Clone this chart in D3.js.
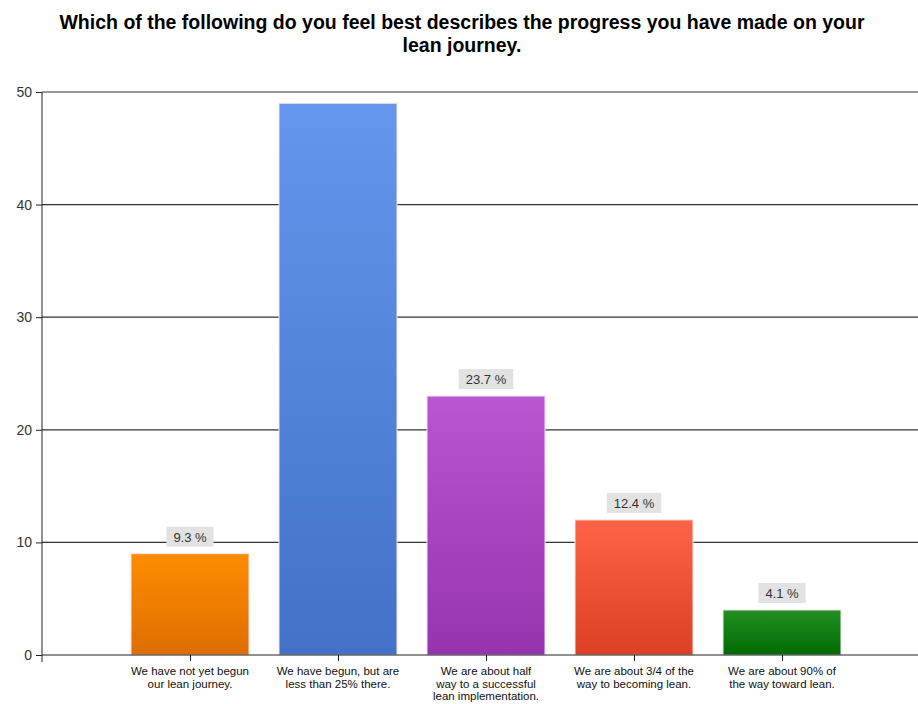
<!DOCTYPE html>
<meta charset="utf-8">
<head>
<style>
  body { margin: 0; background: #fff; }
  svg { display: block; font-family: "Liberation Sans", Arial, sans-serif; }
</style>
</head>
<body>
<svg width="918" height="704"></svg>

<script src="https://d3js.org/d3.v7.min.js"></script>
<script>
var categories = [
  ["We have not yet begun", "our lean journey."],
  ["We have begun, but are", "less than 25% there."],
  ["We are about half", "way to a successful", "lean implementation."],
  ["We are about 3/4 of the", "way to becoming lean."],
  ["We are about 90% of", "the way toward lean."]
];
var counts = [9, 49, 23, 12, 4];
var pctLabels = ["9.3 %", "", "23.7 %", "12.4 %", "4.1 %"];
var yTicks = [0, 10, 20, 30, 40, 50];
var title = ["Which of the following do you feel best describes the progress you have made on your",
             "lean journey."];

// top / bottom colours of each bar's gradient
var colors = [
  ["#ff8c00", "#dd6e00"],
  ["#6595ec", "#4371c8"],
  ["#ba55d3", "#9633b0"],
  ["#ff6347", "#dc4024"],
  ["#239023", "#006a00"]
];

var svg = d3.select("svg");

var x = d3.scaleLinear().domain([0, 6]).range([42, 930]),
    y = d3.scaleLinear().domain([0, 50]).range([655, 92]);
var barW = 118;

var defs = svg.append("defs");
colors.forEach(function(c, i) {
  var gr = defs.append("linearGradient").attr("id", "g" + i)
      .attr("x1", 0).attr("y1", 0).attr("x2", 0).attr("y2", 1);
  gr.append("stop").attr("offset", "0%").attr("stop-color", c[0]);
  gr.append("stop").attr("offset", "100%").attr("stop-color", c[1]);
});

// title
svg.append("g").selectAll("text")
    .data(title)
  .enter().append("text")
    .attr("x", 462)
    .attr("y", function(d, i) { return 29 + i * 23; })
    .attr("text-anchor", "middle")
    .attr("font-size", 19.5)
    .attr("font-weight", "bold")
    .attr("fill", "#000")
    .text(function(d) { return d; });

// gridlines
svg.append("g")
    .selectAll("line")
    .data(yTicks.slice(1))
  .enter().append("line")
    .attr("x1", 42).attr("x2", 918)
    .attr("y1", function(d) { return y(d); })
    .attr("y2", function(d) { return y(d); })
    .attr("stroke", "#333")
    .attr("stroke-width", 1.2);

// bars
svg.append("g").selectAll("rect")
    .data(counts)
  .enter().append("rect")
    .attr("x", function(d, i) { return x(i + 1) - barW / 2; })
    .attr("y", function(d) { return y(d); })
    .attr("width", barW)
    .attr("height", function(d) { return y(0) - y(d); })
    .attr("fill", function(d, i) { return "url(#g" + i + ")"; })
    .attr("stroke", "#f0e6f0")
    .attr("stroke-width", 1);

// value labels
var labs = svg.append("g").selectAll("g")
    .data(counts.map(function(d, i) { return {v: d, t: pctLabels[i], i: i}; })
      .filter(function(d) { return d.t; }))
  .enter().append("g")
    .attr("transform", function(d) { return "translate(" + x(d.i + 1) + "," + (y(d.v) - 7) + ")"; });
labs.each(function(d) {
  var g = d3.select(this);
  var t = g.append("text")
      .attr("text-anchor", "middle")
      .attr("y", -5)
      .attr("font-size", 13)
      .attr("fill", "#333")
      .text(d.t);
  var w = t.node().getComputedTextLength() + 14;
  g.insert("rect", "text")
      .attr("x", -w / 2).attr("y", -20)
      .attr("width", w).attr("height", 20)
      .attr("fill", "#e2e2e2");
});

// y axis
var yAxis = svg.append("g")
    .attr("transform", "translate(42,0)")
    .call(d3.axisLeft(y).tickValues(yTicks).tickSize(6).tickPadding(4));
yAxis.select(".domain").attr("stroke", "#222").attr("d", "M0,92V662");
yAxis.selectAll(".tick line").attr("stroke", "#222");
yAxis.selectAll(".tick text")
    .attr("font-size", 14)
    .attr("font-family", "Liberation Sans, Arial, sans-serif")
    .attr("fill", "#333");

// x axis
var xAxis = svg.append("g")
    .attr("transform", "translate(0,655)")
    .call(d3.axisBottom(x).tickValues([1, 2, 3, 4, 5]).tickSize(6).tickFormat(""));
xAxis.select(".domain").attr("stroke", "#222").attr("d", "M42,0H918");
xAxis.selectAll(".tick line").attr("stroke", "#222");

svg.append("g").selectAll("text")
    .data(categories)
  .enter().append("text")
    .attr("x", function(d, i) { return x(i + 1); })
    .attr("y", 675)
    .attr("text-anchor", "middle")
    .attr("font-size", 11.5)
    .attr("fill", "#111")
    .each(function(d) {
      var el = d3.select(this);
      d.forEach(function(line, k) {
        el.append("tspan")
          .attr("x", el.attr("x"))
          .attr("dy", k === 0 ? 0 : 12.5)
          .text(line);
      });
    });
</script>

</body>
